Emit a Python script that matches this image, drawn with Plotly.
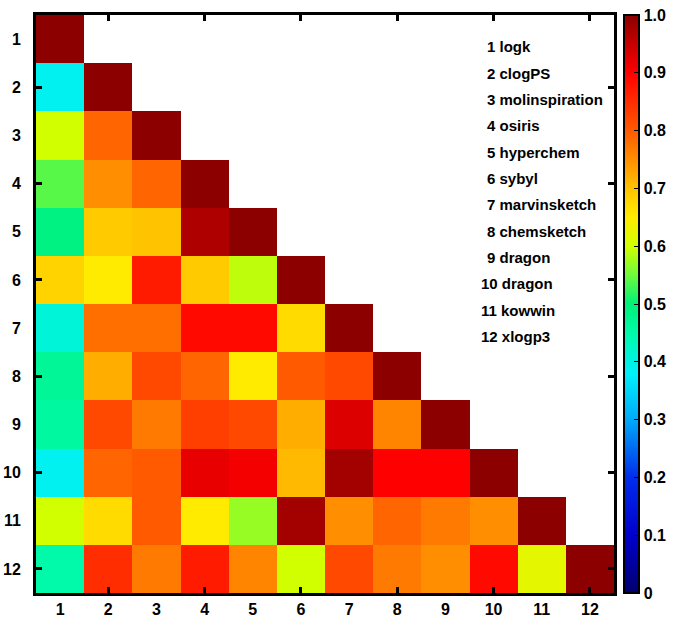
import plotly.graph_objects as go

# ---- data ----
categories = list(range(1, 13))
method_names = ["logk", "clogPS", "molinspiration", "osiris", "hyperchem", "sybyl",
                "marvinsketch", "chemsketch", "dragon", "dragon", "kowwin", "xlogp3"]

# lower-triangular correlation rows (row i has i values, columns 1..i)
row1 = [1.0]
row2 = [0.39, 1.0]
row3 = [0.60, 0.79, 1.0]
row4 = [0.54, 0.75, 0.79, 1.0]
row5 = [0.49, 0.69, 0.70, 0.97, 1.0]
row6 = [0.68, 0.65, 0.87, 0.69, 0.59, 1.0]
row7 = [0.41, 0.78, 0.78, 0.89, 0.89, 0.67, 1.0]
row8 = [0.47, 0.72, 0.82, 0.79, 0.65, 0.80, 0.82, 1.0]
row9 = [0.46, 0.82, 0.77, 0.83, 0.82, 0.72, 0.93, 0.76, 1.0]
row10 = [0.39, 0.79, 0.80, 0.92, 0.91, 0.71, 0.98, 0.90, 0.90, 1.0]
row11 = [0.60, 0.67, 0.80, 0.65, 0.57, 0.98, 0.75, 0.79, 0.77, 0.75, 1.0]
row12 = [0.45, 0.85, 0.77, 0.87, 0.76, 0.60, 0.82, 0.77, 0.75, 0.89, 0.62, 1.0]
rows = [row1, row2, row3, row4, row5, row6, row7, row8, row9, row10, row11, row12]

cbar_ticks = [0, 0.1, 0.2, 0.3, 0.4, 0.5, 0.6, 0.7, 0.8, 0.9, 1.0]
cbar_text = ["0", "0.1", "0.2", "0.3", "0.4", "0.5", "0.6", "0.7", "0.8", "0.9", "1.0"]

z = [r + [None] * (12 - len(r)) for r in rows]

colorscale = [
    [0.0, "rgb(0,0,110)"],
    [0.1, "rgb(0,0,205)"],
    [0.2, "rgb(0,45,235)"],
    [0.3, "rgb(0,170,250)"],
    [0.38, "rgb(0,240,250)"],
    [0.45, "rgb(0,250,170)"],
    [0.5, "rgb(0,240,120)"],
    [0.55, "rgb(110,250,60)"],
    [0.6, "rgb(210,255,0)"],
    [0.65, "rgb(255,235,0)"],
    [0.7, "rgb(255,195,0)"],
    [0.8, "rgb(255,90,0)"],
    [0.9, "rgb(255,0,0)"],
    [1.0, "rgb(140,0,0)"],
]

FONT = "Arial, Liberation Sans, sans-serif"

W, H = 680, 633
ML, MT, PW, PH = 36, 15, 578, 578

fig = go.Figure()
fig.add_trace(go.Heatmap(
    z=z, x=categories, y=categories,
    zmin=0, zmax=1, colorscale=colorscale,
    hoverongaps=False,
    colorbar=dict(
        x=1.017, xanchor="left", xpad=0,
        y=0.5, yanchor="middle", ypad=0,
        len=1.0, lenmode="fraction", thickness=15,
        outlinecolor="black", outlinewidth=2,
        tickvals=cbar_ticks, ticktext=cbar_text,
        ticks="inside", ticklen=6, tickcolor="black", tickwidth=1,
        tickfont=dict(family=FONT, size=16, color="black", weight="bold"),
    ),
))
# invisible trace for tick-only overlay axes
fig.add_trace(go.Scatter(x=[None], y=[None], xaxis="x2", yaxis="y2",
                         showlegend=False, hoverinfo="skip"))

axis_common = dict(
    range=[0.5, 12.5], showgrid=False, zeroline=False,
    showline=True, linecolor="black", linewidth=3, mirror=True,
)

fig.update_layout(
    width=W, height=H,
    margin=dict(l=ML, r=W - ML - PW, t=MT, b=H - MT - PH, autoexpand=False),
    paper_bgcolor="white", plot_bgcolor="white",
    showlegend=False,
    xaxis=dict(**axis_common, tickmode="array", tickvals=categories,
               ticks="", ticklabelstandoff=0, automargin=False,
               tickfont=dict(family=FONT, size=16, color="black", weight="bold")),
    yaxis=dict(range=[12.5, 0.5], showgrid=False, zeroline=False,
               showline=True, linecolor="black", linewidth=3, mirror=True,
               tickmode="array", tickvals=categories, ticks="", ticklabelstandoff=9,
               automargin=False,
               tickfont=dict(family=FONT, size=16, color="black", weight="bold")),
    xaxis2=dict(range=[0.5, 12.5], overlaying="x", showgrid=False, zeroline=False,
                showline=False, tickmode="array", tickvals=categories[1::2],
                ticks="inside", ticklen=6, tickwidth=3, tickcolor="black",
                showticklabels=False, mirror="ticks", side="bottom"),
    yaxis2=dict(range=[12.5, 0.5], overlaying="y", showgrid=False, zeroline=False,
                showline=False, tickmode="array", tickvals=categories[1::2],
                ticks="inside", ticklen=6, tickwidth=3, tickcolor="black",
                showticklabels=False, mirror="ticks", side="left"),
)

# legend-like text list in the upper right (positions in reference pixels)
top_y, step = 47, 26.3
for i, name in enumerate(method_names):
    num = categories[i]
    px = 485 if num < 10 else 479
    fig.add_annotation(
        text=f"{num} {name}", xref="paper", yref="paper",
        x=(px - ML) / PW, xanchor="left",
        y=1 - (top_y + i * step - MT) / PH, yanchor="middle",
        showarrow=False,
        font=dict(family=FONT, size=15, color="black", weight="bold"),
    )

# remove the default page margin so the figure fills the window exactly
fig.write_html(
    "out.html",
    config={"displayModeBar": False},
    post_script="document.body.style.margin='0';document.body.style.overflow='hidden';",
)
